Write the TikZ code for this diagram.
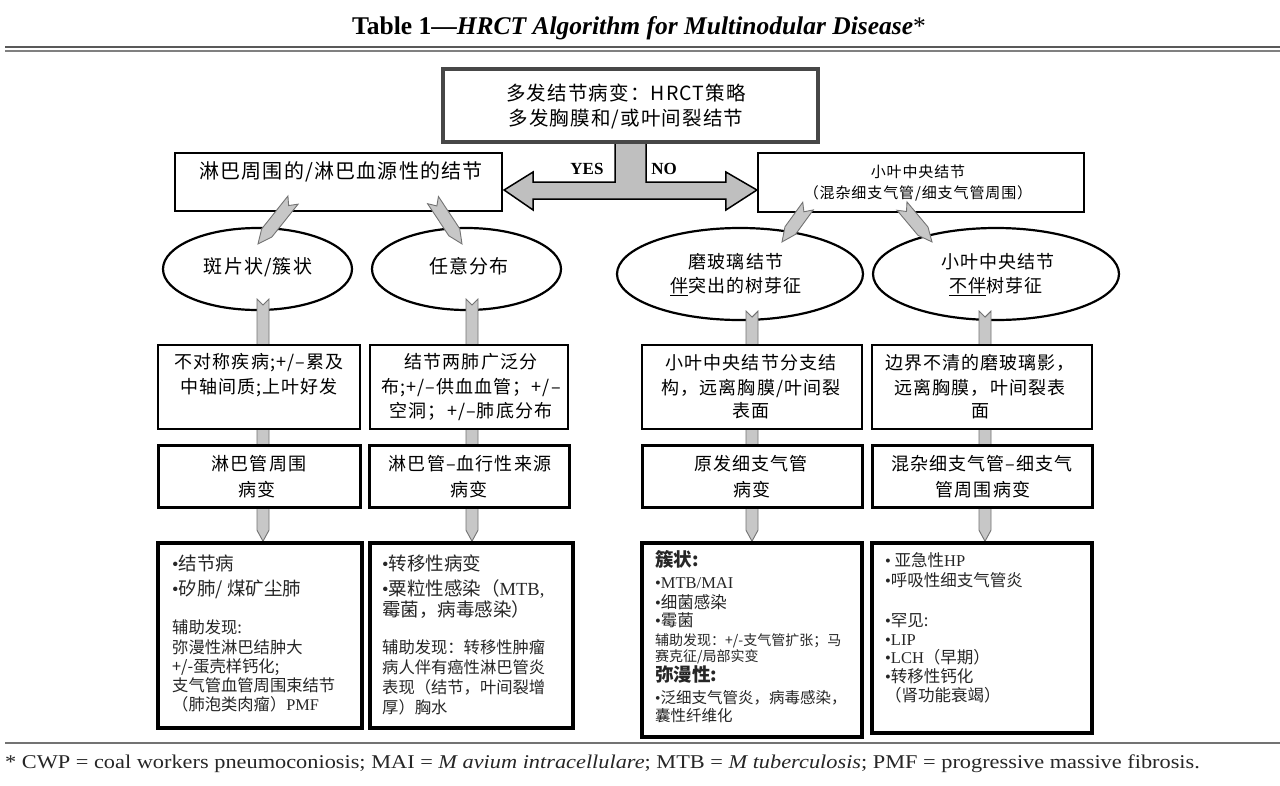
\documentclass[tikz,border=0pt]{standalone}
\usepackage{fontspec}
\setmainfont{Liberation Serif}
\newfontfamily\cjk[LetterSpace=6]{Noto Sans CJK SC}
\newfontfamily\cjkb{Noto Sans CJK SC}
\newfontfamily\lat{Liberation Serif}
\usetikzlibrary{calc,shapes.geometric,shadows}
\pgfdeclarelayer{bg}
\pgfdeclarelayer{fg}
\pgfsetlayers{bg,main,fg}
\newcommand\fsz[1]{\fontsize{#1}{#1}\selectfont}
\newcommand\bul{{\lat •}}
% block arrow with notched tail: from #1 to #2, half width #3, notch depth #4, head length #5
\newcommand\blockarr[5]{%
  \draw[conn] ($(#1)!#3!90:(#2)$) -- ($(#1)!#4!(#2)$) -- ($(#1)!#3!-90:(#2)$)
    -- ($($(#2)!#5!(#1)$)!#3!-90:(#2)$) -- (#2)
    -- ($($(#2)!#5!(#1)$)!#3!90:(#2)$) -- cycle;}
\begin{document}
\begin{tikzpicture}[x=1pt,y=-1pt,
  sz/.style 2 args={minimum width=#1,minimum height=#2},
  topbox/.style={draw=black!72,line width=4.5pt,fill=white,inner sep=0},
  abox/.style={draw,line width=2.2pt,fill=white,inner sep=0},
  ell/.style={ellipse,draw,line width=2.2pt,fill=white,inner sep=0},
  cbox/.style={draw,line width=1.4pt,fill=white,inner sep=0},
  dbox/.style={draw,line width=3pt,fill=white,inner sep=0,
    drop shadow={shadow xshift=1.5pt,shadow yshift=-1.5pt,fill=black!40,opacity=1}},
  fbox/.style={draw,line width=3.6pt,fill=white,inner sep=0,
    drop shadow={shadow xshift=1.5pt,shadow yshift=-1.5pt,fill=black!40,opacity=1}},
  conn/.style={fill=black!22,draw=black!55,line width=0.9pt},
  dbl/.style={fill=black!25,draw=black,line width=1.5pt},
  tline/.style={inner sep=0,text height=0.88em,text depth=0.12em},
  ct/.style={tline,anchor=center,font={\cjk\fsz{18}}},
  ft/.style={tline,anchor=west,text=black!85},
]
\useasboundingbox (0,0) rectangle (1280,785);
\begin{pgfonlayer}{bg}
  \fill[white] (0,0) rectangle (1280,785);
\end{pgfonlayer}

% heading, rules and footnote
\node[anchor=base,inner sep=0] (title) at (639,34)
  {\fsz{25.5}\textbf{Table 1—\textit{HRCT Algorithm for Multinodular Disease}}*};
\draw[black!65,line width=2pt] (5,46.5) -- (1280,46.5);
\draw[black!50,line width=1.1pt] (5,51) -- (1280,51);
\draw[black!55,line width=1.2pt] (5,743) -- (1280,743);
\node[anchor=base west,inner sep=0,text=black!85] (note) at (5,768)
  {\fsz{19.5}\scalebox{1.145}[1]{* CWP = coal workers pneumoconiosis; MAI = \textit{M avium intracellulare}; MTB = \textit{M tuberculosis}; PMF = progressive massive fibrosis.}};

% top decision
\node[topbox,sz={375}{73}] (top) at (630.5,105.5) {};
\node[tline,font={\cjk\fsz{19.5}}] (top1) at (626,97) {多发结节病变：HRCT策略};
\node[tline,font={\cjk\fsz{19.5}}] (top2) at (626,122) {多发胸膜和/或叶间裂结节};

\node[abox,sz={327}{58}] (A) at (338.5,182) {};
\node[tline,font={\cjk\fsz{20}}] (At) at (341,175) {淋巴周围的/淋巴血源性的结节};
\node[abox,sz={326}{59}] (B) at (921,182.5) {};
\node[tline,font={\cjk\fsz{15}}] (Bt1) at (918,174) {小叶中央结节};
\node[tline,font={\cjk\fsz{15}}] (Bt2) at (918,195) {（混杂细支气管/细支气管周围）};

\node[inner sep=0] (yes) at (587,169) {\fsz{17}\textbf{YES}};
\node[inner sep=0] (no) at (664,169) {\fsz{17}\textbf{NO}};

\begin{pgfonlayer}{bg}
  \draw[dbl] ($(top.south)+(-15.5,-4)$) |- ($(A.east)+(30,0)$)
    -- ($(A.east)+(30,-10)$) -- ($(A.east)+(1,8)$) -- ($(A.east)+(30,28)$)
    -- ($(A.east)+(30,17)$) -- ($(B.west)+(-31,16.5)$)
    -- ($(B.west)+(-31,27.5)$) -- ($(B.west)+(0,7.5)$) -- ($(B.west)+(-31,-10.5)$)
    -- ($(B.west)+(-31,-0.5)$) -| ($(top.south)+(15.5,-4)$) -- cycle;
\end{pgfonlayer}

% pattern ellipses
\node[ell,sz={189}{82}] (e1) at (257.5,269) {};
\node[ell,sz={189}{82}] (e2) at (466.5,269) {};
\node[ell,sz={246}{92}] (e3) at (740,274) {};
\node[ell,sz={246}{92}] (e4) at (996,274) {};
\node[tline,font={\cjk\fsz{19}}] (e1t) at (258,270) {斑片状/簇状};
\node[tline,font={\cjk\fsz{19}}] (e2t) at (469,270) {任意分布};
\node[tline,font={\cjk\fsz{18}}] (e3t1) at (736,265) {磨玻璃结节};
\node[tline,font={\cjk\fsz{18}}] (e3t2) at (736,289) {\underline{伴}突出的树芽征};
\node[tline,font={\cjk\fsz{18}}] (e4t1) at (998,265) {小叶中央结节};
\node[tline,font={\cjk\fsz{18}}] (e4t2) at (996,289) {\underline{不伴}树芽征};

% findings, categories and diagnoses
\begin{pgfonlayer}{fg}
\node[cbox,sz={202}{84}] (C1) at (259,387) {};
\node[cbox,sz={198}{84}] (C2) at (469,387) {};
\node[cbox,sz={220}{84}] (C3) at (752,387) {};
\node[cbox,sz={220}{84}] (C4) at (982,387) {};
\node[dbox,sz={202}{62}] (D1) at (259,476) {};
\node[dbox,sz={200}{62}] (D2) at (469.5,476) {};
\node[dbox,sz={220}{62}] (D3) at (752,476) {};
\node[dbox,sz={220}{62}] (D4) at (982,476) {};
\node[fbox,sz={204}{185}] (F1) at (260,635.5) {};
\node[fbox,sz={203}{185}] (F2) at (471.5,635.5) {};
\node[fbox,sz={220}{194}] (F3) at (752,640) {};
\node[fbox,sz={220}{190}] (F4) at (982,638) {};

\node[ct] (c1a) at (259,365) {不对称疾病;+/–累及};
\node[ct] (c1b) at (259,390) {中轴间质;上叶好发};
\node[ct] (c2a) at (471,365) {结节两肺广泛分};
\node[ct] (c2b) at (471,390) {布;+/–供血血管；+/–};
\node[ct] (c2c) at (471,414) {空洞；+/–肺底分布};
\node[ct] (c3a) at (751,366) {小叶中央结节分支结};
\node[ct] (c3b) at (751,391) {构，远离胸膜/叶间裂};
\node[ct] (c3c) at (751,414) {表面};
\node[ct] (c4a) at (980,366) {边界不清的磨玻璃影，};
\node[ct] (c4b) at (980,391) {远离胸膜，叶间裂表};
\node[ct] (c4c) at (980,414) {面};

\node[ct] (d1a) at (259,467) {淋巴管周围};
\node[ct] (d1b) at (257,493) {病变};
\node[ct] (d2a) at (470,467) {淋巴管–血行性来源};
\node[ct] (d2b) at (469,493) {病变};
\node[ct] (d3a) at (751,467) {原发细支气管};
\node[ct] (d3b) at (752,493) {病变};
\node[ct] (d4a) at (982,467) {混杂细支气管–细支气};
\node[ct] (d4b) at (983,493) {管周围病变};

\foreach \py/\pf/\ptx [count=\i] in {567/18.5/{\bul 结节病},592/18.5/{\bul 矽肺/ 煤矿尘肺},
    630/16.3/{辅助发现:},650/16.3/{弥漫性淋巴结肿大},669/16.3/{+/-蛋壳样钙化;},
    688/16.3/{支气管血管周围束结节},707/16.3/{（肺泡类肉瘤）{\lat PMF}}}
  \node[ft,font={\cjkb\fsz{\pf}}] (f1l\i) at (172,\py) {\ptx};
\foreach \py/\pf/\ptx [count=\i] in {567/18.5/{\bul 转移性病变},592/18.5/{\bul 粟粒性感染（{\lat MTB,}},
    613/18.5/{霉菌，病毒感染）},650/16.3/{辅助发现：转移性肿瘤},670/16.3/{病人伴有癌性淋巴管炎},
    690/16.3/{表现（结节，叶间裂增},710/16.3/{厚）胸水}}
  \node[ft,font={\cjkb\fsz{\pf}}] (f2l\i) at (382,\py) {\ptx};
\foreach \py/\pf/\ptx [count=\i] in {563/18.5/{{\bfseries 簇状:}},585/16.5/{\bul{\lat MTB/MAI}},
    605/16.5/{\bul 细菌感染},623/16.5/{\bul 霉菌},642/14/{辅助发现：+/-支气管扩张；马},
    658/14/{赛克征/局部实变},678/18.5/{{\bfseries 弥漫性:}},700/15.5/{\bul 泛细支气管炎，病毒感染，},
    718/15.5/{囊性纤维化}}
  \node[ft,font={\cjkb\fsz{\pf}}] (f3l\i) at (655,\py) {\ptx};
\foreach \py/\pf/\ptx [count=\i] in {563/16.5/{\bul\ 亚急性{\lat HP}},583/16.5/{\bul 呼吸性细支气管炎},
    623/16.5/{\bul 罕见:},642/16.5/{\bul{\lat LIP}},660/16.5/{\bul{\lat LCH}（早期）},
    679/16.5/{\bul 转移性钙化},698/16.5/{（肾功能衰竭）}}
  \node[ft,font={\cjkb\fsz{\pf}}] (f4l\i) at (885,\py) {\ptx};
\end{pgfonlayer}

% vertical connectors running under the boxes
\coordinate (v1a) at ($(e1.south)+(5.5,-12)$);
\coordinate (v1b) at ($(F1.north)+(3,0)$);
\coordinate (v2a) at ($(e2.south)+(5.5,-12)$);
\coordinate (v2b) at ($(F2.north)+(0.5,0)$);
\coordinate (v3a) at ($(e3.south)+(12,-10)$);
\coordinate (v3b) at ($(F3.north)+(0,0)$);
\coordinate (v4a) at ($(e4.south)+(-11,-10)$);
\coordinate (v4b) at ($(F4.north)+(3,0)$);
\blockarr{v1a}{v1b}{6pt}{6pt}{11pt}
\blockarr{v2a}{v2b}{6pt}{6pt}{11pt}
\blockarr{v3a}{v3b}{6pt}{6pt}{11pt}
\blockarr{v4a}{v4b}{6pt}{6pt}{11pt}

% slanted connectors into the ellipses
\coordinate (s1a) at ($(A.south)+(-45.5,-12)$);
\coordinate (s1b) at ($(e1.north)+(0.5,17)$);
\coordinate (s2a) at ($(A.south)+(94.5,-12)$);
\coordinate (s2b) at ($(e2.north)+(-4.5,17)$);
\coordinate (s3a) at ($(B.south)+(-113,-7)$);
\coordinate (s3b) at ($(e3.north)+(42,15)$);
\coordinate (s4a) at ($(B.south)+(-19,-7)$);
\coordinate (s4b) at ($(e4.north)+(-64,15)$);
\blockarr{s1a}{s1b}{6.5pt}{7pt}{14pt}
\blockarr{s2a}{s2b}{6.5pt}{7pt}{14pt}
\blockarr{s3a}{s3b}{6.5pt}{7pt}{14pt}
\blockarr{s4a}{s4b}{6.5pt}{7pt}{14pt}
\end{tikzpicture}
\end{document}
